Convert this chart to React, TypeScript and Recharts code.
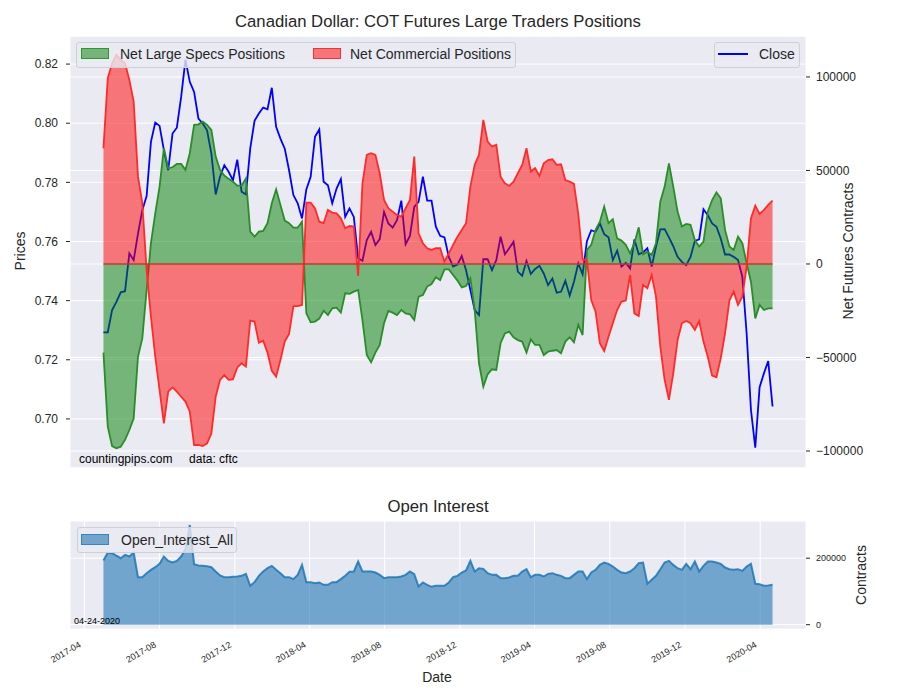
import React from 'react'
import {
  ComposedChart,
  Line,
  Area,
  XAxis,
  YAxis,
  CartesianGrid,
  ReferenceLine,
} from 'recharts'

const FONT = '"Liberation Sans", Arial, Helvetica, sans-serif'
const INK = '#262626'
const BG = '#EAEAF2'

// weekly COT reports, first one on 2017-05-02
const FIRST_REPORT = Date.UTC(2017, 4, 2)
const WEEK = 7 * 24 * 3600 * 1000

const closePrices = [
  0.7293, 0.7293, 0.7368, 0.7396, 0.7428, 0.7432, 0.756, 0.7537, 0.7627, 0.7706,
  0.7754, 0.7937, 0.8002, 0.7991, 0.7909, 0.7841, 0.7965, 0.7985, 0.8089, 0.8215,
  0.814, 0.8106, 0.8016, 0.7999, 0.7976, 0.7897, 0.7759, 0.7819, 0.7858, 0.7836,
  0.7807, 0.7877, 0.7768, 0.7759, 0.7914, 0.8008, 0.8033, 0.8053, 0.8047, 0.812,
  0.7988, 0.7948, 0.7914, 0.7841, 0.7757, 0.7729, 0.7678, 0.7776, 0.7819, 0.7954,
  0.7979, 0.7802, 0.779, 0.7729, 0.7779, 0.7811, 0.7683, 0.7712, 0.7683, 0.7543,
  0.7535, 0.7605, 0.7633, 0.7588, 0.7608, 0.77, 0.7661, 0.7647, 0.7672, 0.7738,
  0.7591, 0.7619, 0.7717, 0.7734, 0.7819, 0.7738, 0.7738, 0.765, 0.7619, 0.7614,
  0.7548, 0.7515, 0.7522, 0.7551, 0.7503, 0.7436, 0.7368, 0.7351, 0.754, 0.754,
  0.7503, 0.7537, 0.7616, 0.7557, 0.7577, 0.7599, 0.7498, 0.7484, 0.7534, 0.749,
  0.7507, 0.7518, 0.7492, 0.7453, 0.7475, 0.7427, 0.743, 0.7467, 0.7417, 0.7464,
  0.7526, 0.7489, 0.7601, 0.7638, 0.7633, 0.7661, 0.7625, 0.7614, 0.7537, 0.7569,
  0.7515, 0.7528, 0.7509, 0.7607, 0.7557, 0.7563, 0.7577, 0.7515, 0.7582, 0.7641,
  0.7642, 0.7614, 0.7584, 0.7548, 0.7531, 0.752, 0.7548, 0.7602, 0.7607, 0.7709,
  0.7689, 0.7661, 0.765, 0.761, 0.7556, 0.7556, 0.7548, 0.7537, 0.7481, 0.7289,
  0.703, 0.6903, 0.7107, 0.7154, 0.7196, 0.7042,
]

const netSpecs = [
  -47400, -87000, -97400, -98600, -97700, -94100, -88800, -82600, -49600, -39800,
  -13900, 11100, 27100, 41400, 61900, 51200, 51700, 53500, 53500, 50300,
  59200, 74400, 74700, 76100, 74400, 71700, 57400, 50300, 47300, 45500,
  44000, 41900, 41900, 45800, 17300, 14600, 17300, 17700, 21800, 32500,
  39900, 31600, 23200, 21800, 19400, 19400, 22600, -26400, -31200, -30800,
  -29200, -25000, -27300, -23700, -23400, -26000, -15700, -16000, -14800, -13900,
  -30000, -48700, -52600, -47400, -43300, -31700, -25100, -26000, -27300, -24600,
  -26400, -26900, -30000, -17500, -16600, -12100, -10700, -7100, -8600, -2900,
  -2900, -5900, -8900, -12500, -11800, -7700, -24600, -53100, -65600, -59000,
  -56300, -56700, -42400, -37100, -36200, -39200, -40700, -41500, -47400, -40300,
  -43300, -43300, -48700, -46900, -46400, -46000, -47800, -41500, -39200, -41900,
  -32600, -38000, 7500, 10200, 18200, 22600, 30700, 21800, 23900, 13700,
  12500, 10200, 5700, 11100, 19600, 5200, 6600, 4800, 11100, 33300,
  41400, 53800, 41400, 28000, 20000, 21400, 20900, 12800, 9300, 11900,
  28000, 34200, 38300, 35100, 18200, 9300, 7500, 14600, 11100, 400,
  -9500, -29100, -21900, -24600, -23700, -23700,
]

const netCommercial = [
  61900, 99300, 107300, 111800, 109100, 107300, 98400, 86800, 46700, 32500,
  -3200, -28200, -49600, -67400, -85200, -68300, -66000, -68300, -71000, -73600,
  -79000, -96800, -96800, -97400, -95900, -90600, -71000, -62000, -59400, -62000,
  -61700, -55300, -53100, -54900, -30300, -30800, -42100, -41000, -47400, -57100,
  -60300, -51400, -41500, -37400, -22500, -22500, -21900, 32800, 32800, 29800,
  22600, 21800, 28900, 27500, 27100, 24400, 19100, 20300, 20000, -6400,
  43100, 58300, 59200, 58300, 48500, 34200, 29800, 28000, 26200, 25300,
  29800, 34200, 57400, 16400, 11100, 8400, 7500, 8400, 8400, 1200,
  5700, 10200, 14600, 18200, 21800, 41400, 53000, 58300, 77000, 65400,
  62800, 63700, 46700, 43100, 41700, 44000, 48500, 53000, 61900, 49400,
  51200, 47100, 53800, 55600, 56000, 53000, 53300, 44900, 44000, 42800,
  26600, 2500, 2100, -19300, -25500, -42400, -46500, -38900, -31700, -24600,
  -20100, -19600, -5900, -26400, -27800, -11200, -13000, -5900, -17500, -44200,
  -62000, -72700, -58500, -40700, -31700, -30500, -31700, -35300, -30500, -41500,
  -49600, -59700, -60600, -50500, -37100, -19600, -14800, -21900, -17500, -1400,
  24400, 31200, 26700, 28900, 31600, 33900,
]

const openInterest = [
  193000, 217000, 215000, 208000, 200000, 210000, 205000, 217000, 143000, 143000,
  155000, 165000, 173000, 183000, 205000, 192000, 187000, 192000, 205000, 227000,
  300000, 182000, 178000, 177000, 176000, 173000, 160000, 148000, 143000, 143000,
  144000, 145000, 147000, 153000, 117000, 128000, 147000, 160000, 170000, 177000,
  165000, 155000, 143000, 143000, 137000, 150000, 180000, 128000, 128000, 125000,
  127000, 120000, 120000, 128000, 128000, 137000, 147000, 159000, 160000, 190000,
  160000, 160000, 160000, 157000, 150000, 140000, 143000, 143000, 143000, 145000,
  150000, 160000, 152000, 115000, 127000, 120000, 114000, 117000, 117000, 117000,
  127000, 143000, 147000, 157000, 163000, 192000, 160000, 170000, 168000, 155000,
  150000, 150000, 140000, 140000, 142000, 147000, 147000, 160000, 167000, 143000,
  150000, 150000, 145000, 153000, 155000, 150000, 147000, 140000, 140000, 150000,
  160000, 160000, 137000, 157000, 165000, 180000, 187000, 183000, 175000, 165000,
  157000, 155000, 160000, 170000, 185000, 187000, 123000, 135000, 147000, 167000,
  187000, 192000, 180000, 170000, 165000, 183000, 167000, 190000, 160000, 177000,
  190000, 190000, 187000, 183000, 172000, 167000, 165000, 167000, 162000, 175000,
  183000, 123000, 122000, 117000, 118000, 120000,
]

const monthLabels = [
  '2017-04', '2017-08', '2017-12', '2018-04', '2018-08', '2018-12',
  '2019-04', '2019-08', '2019-12', '2020-04',
]
const priceTicks = [0.7, 0.72, 0.74, 0.76, 0.78, 0.8, 0.82]
const netTicks = [-100000, -50000, 0, 50000, 100000]
const oiTicks = [0, 200000]

const reportDates = closePrices.map((_, i) => FIRST_REPORT + i * WEEK)
const rows = reportDates.map((t, i) => ({
  t,
  close: closePrices[i],
  specs: netSpecs[i],
  comm: netCommercial[i],
  oi: openInterest[i],
}))

const firstT = reportDates[0]
const lastT = reportDates[reportDates.length - 1]
const pad = (lastT - firstT) * 0.05
const xDomain = [firstT - pad, lastT + pad]
const monthTicks = monthLabels.map((m) => {
  const [y, mo] = m.split('-').map(Number)
  return Date.UTC(y, mo - 1, 1)
})

const fmtMonth = (v: number) => {
  const d = new Date(v)
  return `${d.getUTCFullYear()}-${String(d.getUTCMonth() + 1).padStart(2, '0')}`
}
const fmtSigned = (v: number) => String(v).replace('-', '\u2212')

function DateTick(props: any) {
  const { x, y, payload } = props
  const ax = x - 6
  const ay = y + 12
  return (
    <text
      x={ax}
      y={ay}
      transform={`rotate(-30 ${ax} ${ay})`}
      textAnchor="end"
      dominantBaseline="hanging"
      fontSize={9}
      fontFamily={FONT}
      fill={INK}
    >
      {fmtMonth(payload.value)}
    </text>
  )
}

const legendBox: React.CSSProperties = {
  position: 'absolute',
  background: 'rgba(234,234,242,0.8)',
  border: '1px solid #cfcfd4',
  borderRadius: 3,
  boxSizing: 'border-box',
}

function Txt({ x, y, size, children, rotate, color, anchor }: any) {
  const tx = anchor === 'start' ? '0' : '-50%'
  return (
    <div
      style={{
        position: 'absolute',
        left: x,
        top: y,
        transform: `translate(${tx}, -50%)${rotate ? ` rotate(${rotate}deg)` : ''}`,
        fontFamily: FONT,
        fontSize: size,
        color: color || INK,
        whiteSpace: 'pre',
        lineHeight: 1,
      }}
    >
      {children}
    </div>
  )
}

function Patch({ x, y, fill, edge }: any) {
  return (
    <div
      style={{
        position: 'absolute',
        left: x,
        top: y,
        width: 28,
        height: 11,
        background: fill,
        border: `1px solid ${edge}`,
        boxSizing: 'border-box',
      }}
    />
  )
}

export default function App() {
  return (
    <div
      style={{
        position: 'absolute',
        left: 0,
        top: 0,
        width: 900,
        height: 700,
        background: '#fff',
        overflow: 'hidden',
      }}
    >
      <div style={{ position: 'absolute', left: 0, top: 0 }}>
        <ComposedChart
          width={900}
          height={470}
          data={rows}
          margin={{ top: 36, right: 0, bottom: 2, left: 0 }}
        >
          <CartesianGrid yAxisId="price" fill={BG} fillOpacity={1} stroke="#ffffff" strokeWidth={1} />
          <CartesianGrid yAxisId="net" vertical={false} stroke="#ffffff" strokeWidth={1} />
          <XAxis
            dataKey="t"
            type="number"
            domain={xDomain}
            ticks={monthTicks}
            allowDataOverflow
            tick={false}
            tickLine={false}
            axisLine={false}
            height={0}
          />
          <YAxis
            yAxisId="price"
            orientation="left"
            width={70}
            domain={[0.6834, 0.8295]}
            ticks={priceTicks}
            allowDataOverflow
            axisLine={false}
            tickSize={4}
            tickMargin={8}
            tickLine={{ stroke: INK }}
            tickFormatter={(v: number) => v.toFixed(2)}
            tick={{ fill: INK, fontSize: 12, fontFamily: FONT }}
          />
          <YAxis
            yAxisId="net"
            orientation="right"
            width={94}
            domain={[-109100, 121900]}
            ticks={netTicks}
            allowDataOverflow
            axisLine={false}
            tickSize={4}
            tickMargin={6}
            tickLine={{ stroke: INK }}
            tickFormatter={fmtSigned}
            tick={{ fill: INK, fontSize: 12, fontFamily: FONT }}
          />
          <Line
            yAxisId="price"
            dataKey="close"
            type="linear"
            stroke="#0000ff"
            strokeWidth={1.8}
            dot={false}
            activeDot={false}
            zIndex={50}
            isAnimationActive={false}
          />
          <Area
            yAxisId="net"
            dataKey="specs"
            type="linear"
            baseValue={0}
            stroke="#2a8c2a"
            strokeWidth={1.8}
            fill="#008000"
            fillOpacity={0.5}
            dot={false}
            activeDot={false}
            isAnimationActive={false}
          />
          <Area
            yAxisId="net"
            dataKey="comm"
            type="linear"
            baseValue={0}
            stroke="#ff2b2b"
            strokeWidth={1.8}
            fill="#ff0000"
            fillOpacity={0.5}
            dot={false}
            activeDot={false}
            isAnimationActive={false}
          />
          <ReferenceLine
            yAxisId="net"
            segment={[
              { x: firstT, y: 0 },
              { x: lastT, y: 0 },
            ]}
            stroke="#b83f2a"
            strokeWidth={1.6}
          />
        </ComposedChart>
      </div>

      <div style={{ position: 'absolute', left: 0, top: 490 }}>
        <ComposedChart
          width={900}
          height={210}
          data={rows}
          margin={{ top: 31, right: 0, bottom: 0, left: 70 }}
        >
          <CartesianGrid yAxisId="oi" fill={BG} fillOpacity={1} stroke="#ffffff" strokeWidth={1} />
          <XAxis
            dataKey="t"
            type="number"
            domain={xDomain}
            ticks={monthTicks}
            allowDataOverflow
            axisLine={false}
            tickLine={false}
            tickSize={0}
            tickMargin={0}
            height={71}
            tick={<DateTick />}
            interval={0}
          />
          <YAxis
            yAxisId="oi"
            orientation="right"
            width={94}
            domain={[-13000, 312000]}
            ticks={oiTicks}
            allowDataOverflow
            axisLine={false}
            tickSize={4}
            tickMargin={6}
            tickLine={{ stroke: INK }}
            tick={{ fill: INK, fontSize: 9, fontFamily: FONT }}
          />
          <Area
            yAxisId="oi"
            dataKey="oi"
            type="linear"
            baseValue={0}
            stroke="#1f77b4"
            strokeOpacity={0.85}
            strokeWidth={2}
            fill="#1f77b4"
            fillOpacity={0.6}
            dot={false}
            activeDot={false}
            isAnimationActive={false}
          />
        </ComposedChart>
      </div>

      {/* titles and axis labels */}
      <Txt x={438} y={22} size={16.7}>Canadian Dollar: COT Futures Large Traders Positions</Txt>
      <Txt x={20} y={251} size={14} rotate={-90}>Prices</Txt>
      <Txt x={848} y={251} size={14} rotate={-90}>Net Futures Contracts</Txt>
      <Txt x={79} y={459} size={12} color="#000" anchor="start">{'countingpips.com     data: cftc'}</Txt>
      <Txt x={438} y={507} size={16.7}>Open Interest</Txt>
      <Txt x={861} y={575} size={14} rotate={-90}>Contracts</Txt>
      <Txt x={437} y={677} size={14}>Date</Txt>
      <Txt x={74} y={621} size={9} color="#000" anchor="start">04-24-2020</Txt>

      {/* legends */}
      <div style={{ ...legendBox, left: 76, top: 42, width: 440, height: 26 }} />
      <Patch x={81} y={48} fill="rgba(0,128,0,0.5)" edge="rgba(0,128,0,0.6)" />
      <Txt x={120} y={54} size={14} anchor="start">Net Large Specs Positions</Txt>
      <Patch x={313} y={48} fill="rgba(255,0,0,0.5)" edge="rgba(255,0,0,0.6)" />
      <Txt x={350} y={54} size={14} anchor="start">Net Commercial Positions</Txt>

      <div style={{ ...legendBox, left: 714, top: 42, width: 86, height: 26 }} />
      <div style={{ position: 'absolute', left: 718, top: 53, width: 30, height: 2, background: '#0000ff' }} />
      <Txt x={759} y={54} size={14} anchor="start">Close</Txt>

      <div style={{ ...legendBox, left: 77, top: 527, width: 160, height: 26 }} />
      <Patch x={81} y={534} fill="rgba(31,119,180,0.6)" edge="rgba(31,119,180,0.7)" />
      <Txt x={121} y={540} size={14} anchor="start">Open_Interest_All</Txt>
    </div>
  )
}
